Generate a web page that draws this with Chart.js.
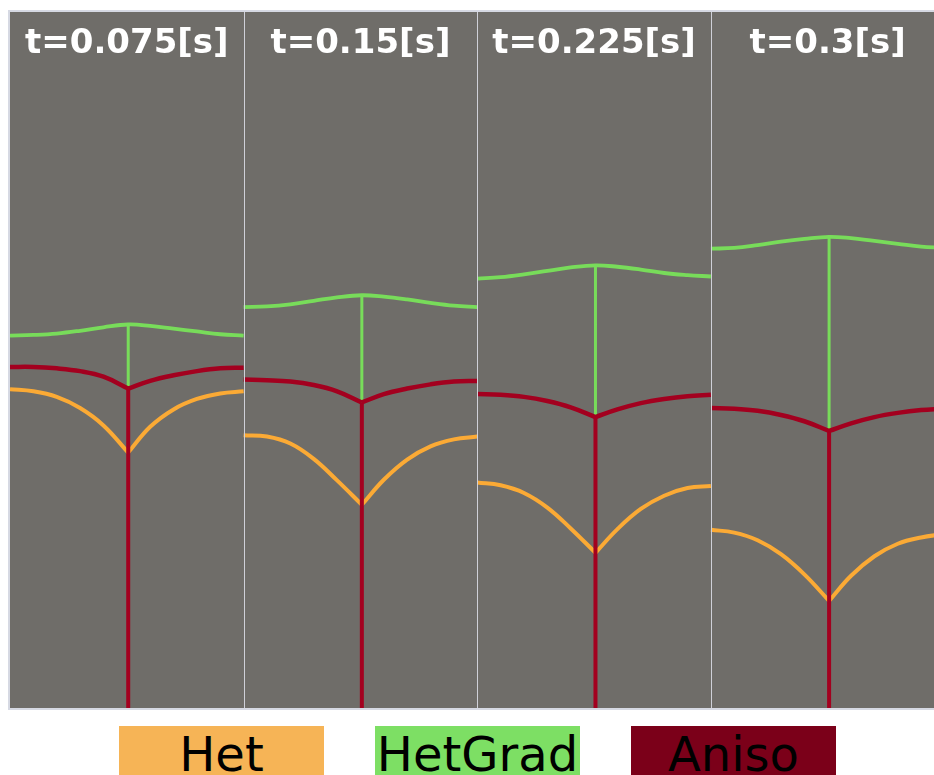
<!DOCTYPE html>
<html>
<head>
<meta charset="utf-8">
<script src="https://cdn.jsdelivr.net/npm/chart.js@4.4.1/dist/chart.umd.min.js"></script>
<style>
  html, body { margin: 0; padding: 0; background: #fff; overflow: hidden; }
  body { width: 934px; height: 775px; position: relative; }
  #fronts { position: absolute; left: 0; top: 0; }
  .key {
    position: absolute; top: 726px; width: 205px; height: 54px;
    font-family: "DejaVu Sans", sans-serif; font-size: 48px; line-height: normal;
    text-align: center; color: #000; white-space: nowrap;
  }
</style>
</head>
<body>
<canvas id="fronts" width="934" height="712"></canvas>
<div id="legend"></div>
<script>
  // Panel titles (one panel per time step)
  const panelTitles = ["t=0.075[s]", "t=0.15[s]", "t=0.225[s]", "t=0.3[s]"];

  // Sample positions across one panel (0 = left edge, 1 = right edge), index 5 is the centre junction
  const uPos = [0, 0.1, 0.2, 0.3, 0.4, 0.506, 0.6, 0.7, 0.8, 0.9, 1];
  const centreIdx = 5;

  // Front height (fraction of domain height), one row per panel
  const hetGrad = [
    [0.535, 0.536, 0.538, 0.542, 0.547, 0.551, 0.549, 0.545, 0.541, 0.537, 0.535],
    [0.576, 0.577, 0.580, 0.585, 0.590, 0.593, 0.591, 0.587, 0.582, 0.578, 0.576],
    [0.617, 0.619, 0.623, 0.628, 0.633, 0.636, 0.634, 0.630, 0.625, 0.622, 0.620],
    [0.660, 0.661, 0.665, 0.670, 0.674, 0.677, 0.675, 0.671, 0.667, 0.663, 0.661]
  ];
  const aniso = [
    [0.490, 0.490, 0.488, 0.484, 0.476, 0.459, 0.470, 0.478, 0.484, 0.488, 0.489],
    [0.472, 0.471, 0.469, 0.464, 0.455, 0.439, 0.451, 0.459, 0.465, 0.469, 0.470],
    [0.451, 0.450, 0.447, 0.441, 0.432, 0.418, 0.429, 0.438, 0.444, 0.448, 0.450],
    [0.431, 0.430, 0.427, 0.421, 0.412, 0.398, 0.409, 0.418, 0.424, 0.428, 0.430]
  ];
  const het = [
    [0.458, 0.455, 0.447, 0.431, 0.406, 0.367, 0.404, 0.429, 0.444, 0.452, 0.455],
    [0.392, 0.390, 0.380, 0.358, 0.327, 0.292, 0.328, 0.357, 0.376, 0.386, 0.390],
    [0.324, 0.320, 0.309, 0.288, 0.258, 0.223, 0.257, 0.286, 0.305, 0.316, 0.319],
    [0.256, 0.252, 0.241, 0.221, 0.192, 0.154, 0.190, 0.218, 0.236, 0.245, 0.250]
  ];

  const seriesNames = ["Het", "HetGrad", "Aniso"];
  const lineColors = ["#fbaa35", "#78dc5a", "#a3001f"];
  const boxColors = ["#f6b456", "#7ddf64", "#7b0019"];
  const boxLeft = [119, 375, 631];

  // one curve per panel, optionally split at the centre so the junction stays sharp
  function buildCurve(rows, split) {
    const pts = [];
    rows.forEach((row, p) => {
      uPos.forEach((u, i) => {
        pts.push({ x: p + u, y: row[i] });
        if (split && i === centreIdx) {
          pts.push({ x: p + u, y: null });
          pts.push({ x: p + u, y: row[i] });
        }
      });
      pts.push({ x: p + 1, y: null });
    });
    return pts;
  }

  // vertical stems at the junction
  function buildStem(topRows, bottomRows) {
    const pts = [];
    topRows.forEach((row, p) => {
      const x = p + uPos[centreIdx];
      pts.push({ x: x, y: row[centreIdx] });
      pts.push({ x: x, y: bottomRows ? bottomRows[p][centreIdx] : 0 });
      pts.push({ x: x, y: null });
    });
    return pts;
  }

  const panelPlugin = {
    id: "panels",
    beforeDatasetsDraw(chart) {
      const { ctx, chartArea: a } = chart;
      ctx.save();
      ctx.fillStyle = "#6f6d69";
      ctx.fillRect(a.left, a.top, a.right - a.left, a.bottom - a.top);
      ctx.restore();
    },
    afterDatasetsDraw(chart) {
      const { ctx, chartArea: a, scales } = chart;
      ctx.save();
      ctx.strokeStyle = "#cfd0d8";
      ctx.lineWidth = 1;
      for (let p = 1; p < panelTitles.length; p++) {
        const x = Math.round(scales.x.getPixelForValue(p)) + 0.5;
        ctx.beginPath();
        ctx.moveTo(x, a.top);
        ctx.lineTo(x, a.bottom);
        ctx.stroke();
      }
      ctx.strokeStyle = "#d6d9e3";
      ctx.lineWidth = 2;
      ctx.beginPath();
      ctx.moveTo(a.right + 2, a.top - 1);
      ctx.lineTo(a.left - 1, a.top - 1);
      ctx.lineTo(a.left - 1, a.bottom + 1);
      ctx.lineTo(a.right + 2, a.bottom + 1);
      ctx.stroke();

      ctx.fillStyle = "#ffffff";
      ctx.font = "bold 34px 'DejaVu Sans'";
      ctx.textAlign = "center";
      ctx.textBaseline = "alphabetic";
      panelTitles.forEach((t, p) => {
        ctx.fillText(t, scales.x.getPixelForValue(p + 0.5), a.top + 41);
      });
      ctx.restore();
    }
  };

  const curveStyle = { pointRadius: 0, fill: false, spanGaps: false, tension: 0.4, borderJoinStyle: "round" };

  new Chart(document.getElementById("fronts"), {
    type: "line",
    data: {
      datasets: [
        { label: "Aniso", data: buildCurve(aniso, true), borderColor: lineColors[2], borderWidth: 4.5, order: 0, ...curveStyle },
        { label: "Aniso stem", data: buildStem(aniso), borderColor: lineColors[2], borderWidth: 4, order: 0, pointRadius: 0, tension: 0 },
        { label: "Het", data: buildCurve(het, true), borderColor: lineColors[0], borderWidth: 4, order: 1, ...curveStyle },
        { label: "HetGrad", data: buildCurve(hetGrad, false), borderColor: lineColors[1], borderWidth: 3.8, order: 2, ...curveStyle },
        { label: "HetGrad stem", data: buildStem(hetGrad, aniso), borderColor: lineColors[1], borderWidth: 3, order: 2, pointRadius: 0, tension: 0 }
      ]
    },
    options: {
      responsive: false,
      devicePixelRatio: 1,
      animation: false,
      layout: { padding: { left: 10, top: 12, right: 0, bottom: 4 } },
      plugins: { legend: { display: false }, tooltip: { enabled: false } },
      scales: {
        x: { type: "linear", min: 0, max: 3.955, display: false },
        y: { type: "linear", min: 0, max: 1, display: false }
      }
    },
    plugins: [panelPlugin]
  });

  // legend: coloured boxes with the series name inside
  const legend = document.getElementById("legend");
  seriesNames.forEach((name, i) => {
    const box = document.createElement("div");
    box.className = "key";
    box.style.left = boxLeft[i] + "px";
    box.style.background = boxColors[i];
    box.textContent = name;
    legend.appendChild(box);
  });
</script>
</body>
</html>
